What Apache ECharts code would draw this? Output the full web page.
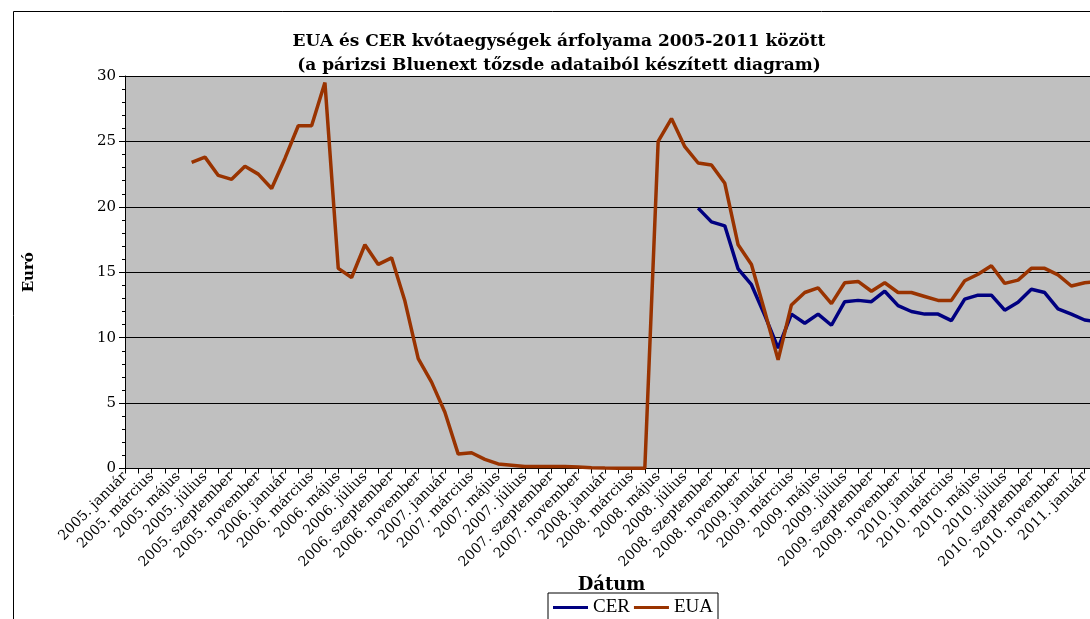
<!DOCTYPE html>
<html>
<head>
<meta charset="utf-8">
<script src="https://cdn.jsdelivr.net/npm/echarts@6/dist/echarts.min.js"></script>
<style>
  html, body { margin: 0; padding: 0; background: #ffffff; }
  #chart { width: 1090px; height: 619px; }
</style>
</head>
<body>
<div id="chart"></div>
<script>
// Monthly categories, 2005. január onwards
const years = [2005, 2006, 2007, 2008, 2009, 2010, 2011];
const monthNames = ['január', 'február', 'március', 'április', 'május', 'június',
                    'július', 'augusztus', 'szeptember', 'október', 'november', 'december'];
const monthCount = 74;

// EUA price (euro), one value per month
const euaValues = [
  null, null, null, null, null, 23.4, 23.8, 22.4, 22.1, 23.1, 22.5, 21.4,
  23.7, 26.2, 26.2, 29.5, 15.3, 14.6, 17.1, 15.6, 16.1, 12.8, 8.4, 6.6,
  4.3, 1.1, 1.2, 0.7, 0.35, 0.25, 0.15, 0.15, 0.15, 0.15, 0.12, 0.05,
  0.03, 0.02, 0.02, 0.02, 25.0, 26.75, 24.6, 23.35, 23.2, 21.8, 17.1, 15.6,
  12.0, 8.3, 12.5, 13.45, 13.8, 12.6, 14.2, 14.3, 13.55, 14.2, 13.45, 13.45,
  13.15, 12.85, 12.85, 14.35, 14.85, 15.5, 14.15, 14.4, 15.3, 15.3, 14.8, 13.95,
  14.2, 14.3
];

// CER price (euro), one value per month
const cerValues = [
  null, null, null, null, null, null, null, null, null, null, null, null,
  null, null, null, null, null, null, null, null, null, null, null, null,
  null, null, null, null, null, null, null, null, null, null, null, null,
  null, null, null, null, null, null, null, 19.9, 18.85, 18.55, 15.25, 14.05,
  11.7, 9.2, 11.8, 11.1, 11.8, 10.95, 12.75, 12.85, 12.75, 13.55, 12.45, 12.0,
  11.8, 11.8, 11.3, 12.95, 13.25, 13.25, 12.1, 12.7, 13.7, 13.45, 12.2, 11.8,
  11.35, 11.2
];

const categories = [];
for (let i = 0; i < monthCount; i++) {
  categories.push(years[Math.floor(i / 12)] + '. ' + monthNames[i % 12]);
}

const chart = echarts.init(document.getElementById('chart'), null, { renderer: 'canvas' });

chart.setOption({
  animation: false,
  backgroundColor: '#ffffff',
  title: {
    text: 'EUA és CER kvótaegységek árfolyama 2005-2011 között\n(a párizsi Bluenext tőzsde adataiból készített diagram)',
    left: 559,
    top: 30,
    textAlign: 'center',
    padding: 0,
    textStyle: {
      fontFamily: '"DejaVu Serif"',
      fontWeight: 'bold',
      fontSize: 17,
      lineHeight: 24,
      color: '#000000'
    }
  },
  graphic: [
    {
      type: 'rect',
      silent: true,
      shape: { x: 13.5, y: 11.5, width: 1200, height: 800 },
      style: { fill: 'none', stroke: '#000000', lineWidth: 1 }
    }
  ],
  legend: {
    data: ['CER', 'EUA'],
    left: 548,
    top: 593,
    orient: 'horizontal',
    icon: 'rect',
    itemWidth: 35,
    itemHeight: 3,
    itemGap: 4,
    padding: [5, 5, 8, 5],
    borderColor: '#000000',
    borderWidth: 1,
    textStyle: { fontFamily: '"Liberation Serif"', fontSize: 19, color: '#000000' }
  },
  grid: {
    left: 125,
    width: 973,
    top: 76,
    height: 392.5,
    show: true,
    backgroundColor: '#C0C0C0',
    borderWidth: 0,
    containLabel: false,
    outerBoundsMode: 'none'
  },
  xAxis: {
    type: 'category',
    data: categories,
    boundaryGap: false,
    name: 'Dátum',
    nameLocation: 'middle',
    nameGap: 98,
    nameTextStyle: { fontFamily: '"DejaVu Serif"', fontWeight: 'bold', fontSize: 18, color: '#000000' },
    axisLine: { show: true, lineStyle: { color: '#000000', width: 1 } },
    axisTick: { show: true, interval: 0, length: 5, lineStyle: { color: '#000000' } },
    axisLabel: {
      interval: 1,
      rotate: 45,
      margin: 6,
      fontFamily: '"DejaVu Serif"',
      fontSize: 14,
      color: '#000000'
    },
    splitLine: { show: false }
  },
  yAxis: {
    type: 'value',
    min: 0,
    max: 30,
    interval: 5,
    name: 'Euró',
    nameLocation: 'middle',
    nameGap: 88,
    nameTextStyle: { fontFamily: '"DejaVu Serif"', fontWeight: 'bold', fontSize: 15, color: '#000000' },
    axisLine: { show: true, lineStyle: { color: '#000000', width: 1 } },
    axisTick: { show: true, length: 6, lineStyle: { color: '#000000' } },
    minorTick: { show: true, splitNumber: 5, length: 3, lineStyle: { color: '#000000' } },
    splitLine: { show: true, lineStyle: { color: '#000000', width: 1 } },
    axisLabel: { fontFamily: '"DejaVu Serif"', fontSize: 15, color: '#000000', margin: 9 }
  },
  series: [
    {
      name: 'CER',
      type: 'line',
      data: cerValues,
      showSymbol: false,
      connectNulls: false,
      lineStyle: { color: '#000080', width: 3.5 },
      itemStyle: { color: '#000080' }
    },
    {
      name: 'EUA',
      type: 'line',
      data: euaValues,
      showSymbol: false,
      connectNulls: false,
      lineStyle: { color: '#993300', width: 3.5 },
      itemStyle: { color: '#993300' }
    }
  ]
});
</script>
</body>
</html>
